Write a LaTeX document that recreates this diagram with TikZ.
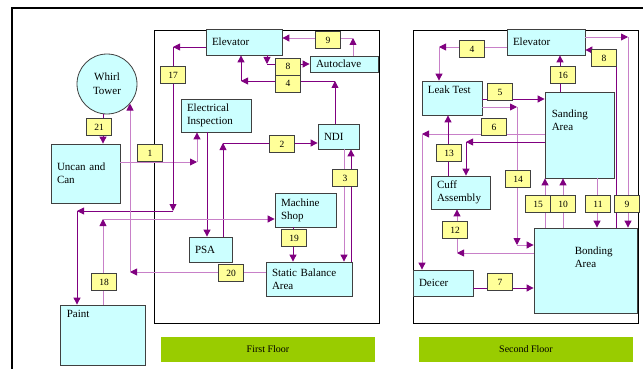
\documentclass[tikz,border=0pt]{standalone}
\usepackage{fontspec}
\setmainfont{Liberation Serif}
\usetikzlibrary{arrows.meta}
\definecolor{roomcyan}{RGB}{204,255,255}
\definecolor{tagyellow}{RGB}{255,255,153}
\definecolor{floorgreen}{RGB}{153,204,0}
\definecolor{lnpurple}{RGB}{128,0,128}
\definecolor{lnorchid}{RGB}{200,128,200}

\begin{document}
\begin{tikzpicture}[x=1pt,y=-1pt,
  room/.style={draw=black!75,fill=roomcyan,line width=0.8pt,align=left,inner xsep=6pt,inner ysep=1pt,font=\fontsize{11}{13}\selectfont},
  txt/.style={inner sep=0pt,align=left,font=\fontsize{11}{13}\selectfont},
  tag/.style={draw=black!75,fill=tagyellow,line width=0.8pt,minimum width=25pt,minimum height=17pt,inner sep=0pt,font=\fontsize{9.5}{10}\selectfont},
  floor/.style={fill=floorgreen,minimum width=214pt,minimum height=25pt,inner sep=0pt,font=\fontsize{10}{12}\selectfont},
  dk/.style={draw=lnpurple,line width=0.9pt},
  lt/.style={draw=lnorchid,line width=0.9pt},
  >={Triangle[length=7pt,width=7pt,color=lnpurple]}]
\useasboundingbox (0,0) rectangle (643,369);

% frames
\draw[line width=1.6pt] (12,369)--(12,8)--(643,8);
\draw[line width=0.7pt] (154,30) rectangle (379,323);
\draw[line width=0.7pt] (413,30) rectangle (638,323);

% first floor rooms
\node[draw=black!75,fill=roomcyan,line width=0.8pt,circle,minimum size=60pt,inner sep=0pt,align=center,font=\fontsize{11}{14}\selectfont] (whirl) at (107,84) {Whirl\\Tower};
\node[room,text width=57pt,minimum height=59pt] (uncan) at (85.5,173.5) {Uncan and\\Can};
\node[room,minimum width=85pt,minimum height=60pt] (paint) at (102.5,335) {};
\node[txt,anchor=north west] (painttxt) at ([shift={(7,5)}]paint.north west) {Paint};
\node[room,text width=64pt,minimum height=26pt] (elev1) at (244,42) {Elevator};
\node[room,text width=56pt,minimum height=16pt] (autoclave) at (344,64) {Autoclave};
\node[room,text width=58pt,minimum height=33pt] (elec) at (216,115.5) {Electrical\\Inspection};
\node[room,text width=29pt,minimum height=25pt] (ndi) at (338.5,136.5) {NDI};
\node[room,text width=49pt,minimum height=34pt] (mshop) at (305.5,210) {Machine\\Shop};
\node[room,text width=31pt,minimum height=25pt] (psa) at (210.5,249.5) {PSA};
\node[room,text width=74pt,minimum height=34pt] (sba) at (309,279) {Static Balance\\Area};

% second floor rooms
\node[room,text width=66pt,minimum height=26pt] (elev2) at (546,42) {Elevator};
\node[room,minimum width=60pt,minimum height=34pt] (leak) at (452,98) {};
\node[txt,anchor=north west] (leaktxt) at ([shift={(6,5)}]leak.north west) {Leak Test};
\node[room,minimum width=69pt,minimum height=86pt] (sanding) at (579.5,135) {};
\node[txt,anchor=north west] (sandtxt) at ([shift={(7,18)}]sanding.north west) {Sanding\\Area};
\node[room,text width=47pt,minimum height=33pt] (cuff) at (460.5,192.5) {Cuff\\Assembly};
\node[room,minimum width=103pt,minimum height=85pt] (bonding) at (585.5,270.5) {};
\node[txt,anchor=north west] (bondtxt) at ([shift={(41,19)}]bonding.north west) {Bonding\\Area};
\node[room,text width=48pt,minimum height=26pt] (deicer) at (443,283) {Deicer};

% first floor flows
\coordinate (c1) at (197,162);
\coordinate (c2) at (223,143);
\coordinate (c4a) at (335,81);
\coordinate (c4b) at (241,81);
\coordinate (c8) at (267,64);
\coordinate (c9) at (353,38);
\coordinate (c17a) at (173,47);
\coordinate (c17b) at (173,211);
\coordinate (c17c) at (77,211);
\coordinate (c18) at (103,219);
\coordinate (c20) at (130,272);
\draw[dk,->] (103,0 |- whirl.south) -- (103,0 |- uncan.north);
\draw[lt,->] (uncan.east |- c1) -- (c1);
\draw[lt,->] (c1) -- (c1 |- elec.south);
\draw[dk,->] (207,0 |- elec.south) -- (207,0 |- psa.north);
\draw[dk,->] (c2 |- psa.north) -- (c2);
\draw[dk,->] (c2) -- (ndi.west |- c2);
\draw[dk,->] (c4a |- ndi.north) -- (c4a);
\draw[dk,->] (c4a) -- (c4b);
\draw[dk,->] (c4b) -- (c4b |- elev1.south);
\draw[dk,->] (c8 |- elev1.south) -- (c8);
\draw[dk,->] (c8) -- (autoclave.west |- c8);
\draw[lt,->] (c9 |- autoclave.north) -- (c9);
\draw[lt,->] (c9) -- (elev1.east |- c9);
\draw[dk,->] (elev1.west |- c17a) -- (c17a);
\draw[dk,->] (c17a) -- (c17b);
\draw[dk,->] (c17b) -- (c17c);
\draw[dk,->] (c17c) -- (c17c |- paint.north);
\draw[lt,->] (c18 |- paint.north) -- (c18);
\draw[lt,->] (c18) -- (mshop.west |- c18);
\draw[dk,->] (293,0 |- mshop.south) -- (293,0 |- sba.north);
\draw[lt,->] (344,0 |- ndi.south) -- (344,0 |- sba.north);
\draw[dk,->] (351,0 |- sba.north) -- (351,0 |- ndi.south);
\draw[lt,->] (sba.west |- c20) -- (c20);
\draw[lt,->] (c20) -- (c20 |- whirl.-40);

% second floor flows
\coordinate (d4) at (439,47);
\coordinate (d8) at (616,50);
\coordinate (d9) at (628,37);
\coordinate (d14a) at (517,107);
\coordinate (d14b) at (517,245);
\coordinate (d6) at (422,134);
\coordinate (dc) at (466,142);
\coordinate (d12) at (457,253);
\draw[lt,->] (elev2.west |- d4) -- (d4);
\draw[lt,->] (d4) -- (d4 |- leak.north);
\draw[dk,->] (560,0 |- sanding.north) -- (560,0 |- elev2.south);
\draw[dk,->] (d8 |- bonding.north) -- (d8) -- (elev2.east |- d8);
\draw[lt,->] (elev2.east |- d9) -- (d9);
\draw[lt,->] (d9) -- (d9 |- bonding.north);
\draw[dk,->] (leak.east |- 0,99) -- (sanding.west |- 0,99);
\draw[lt,->] (leak.east |- d14a) -- (d14a);
\draw[lt,->] (d14a) -- (d14b);
\draw[lt,->] (d14b) -- (bonding.west |- d14b);
\draw[lt,->] (sanding.west |- d6) -- (d6);
\draw[lt,->] (d6) -- (d6 |- deicer.north);
\draw[dk,->] (sanding.west |- dc) -- (dc);
\draw[dk,->] (dc) -- (dc |- cuff.north);
\draw[dk,->] (448,0 |- cuff.north) -- (448,0 |- leak.south);
\draw[lt,->] (bonding.west |- d12) -- (d12);
\draw[lt,->] (d12) -- (d12 |- cuff.south);
\draw[dk,->] (deicer.east |- 0,288) -- (bonding.west |- 0,288);
\draw[lt,->] (545,0 |- bonding.north) -- (545,0 |- sanding.south);
\draw[lt,->] (563,0 |- bonding.north) -- (563,0 |- sanding.south);
\draw[lt,->] (597,0 |- sanding.south) -- (597,0 |- bonding.north);

% step numbers
\node[tag] (t21) at (99,127) {21};
\node[tag] (t1) at (150,153) {1};
\node[tag] (t17) at (173,75) {17};
\node[tag] (t9a) at (328,40) {9};
\node[tag] (t8a) at (288,66.5) {8};
\node[tag] (t4a) at (288,83.5) {4};
\node[tag] (t2) at (282,144) {2};
\node[tag] (t3) at (345,178) {3};
\node[tag] (t19) at (294,238) {19};
\node[tag] (t20) at (231,273) {20};
\node[tag] (t18) at (104,282) {18};
\node[tag] (u4) at (472,49) {4};
\node[tag] (u16) at (563,75) {16};
\node[tag] (u8) at (604,58) {8};
\node[tag] (u5) at (500,92) {5};
\node[tag] (u6) at (494,127) {6};
\node[tag] (u13) at (449,153) {13};
\node[tag] (u14) at (518,179) {14};
\node[tag] (u15) at (538,204) {15};
\node[tag] (u10) at (563,204) {10};
\node[tag] (u11) at (598,204) {11};
\node[tag] (u9) at (627,204) {9};
\node[tag] (u12) at (455,230) {12};
\node[tag] (u7) at (500,282) {7};

% floor captions
\node[floor] (first) at (268,349.5) {First Floor};
\node[floor] (second) at (526,349.5) {Second Floor};
\end{tikzpicture}
\end{document}
